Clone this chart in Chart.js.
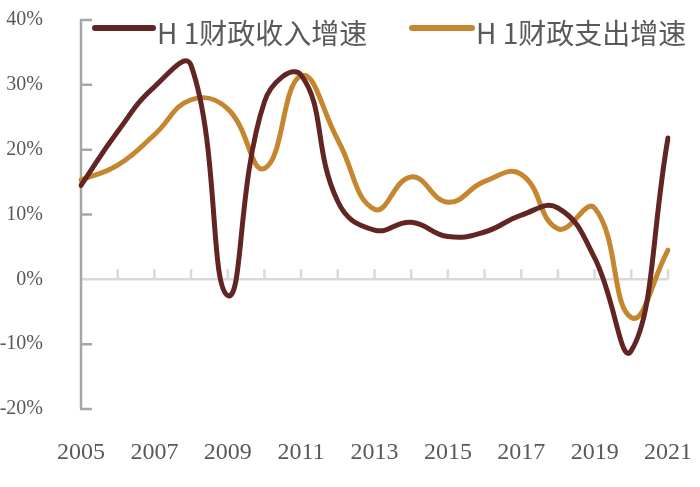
<!DOCTYPE html>
<html>
<head>
<meta charset="utf-8">
<script src="https://cdn.jsdelivr.net/npm/chart.js@4/dist/chart.umd.min.js"></script>
<style>
  html, body { margin: 0; padding: 0; background: #fff; }
  #wrap { width: 700px; height: 487px; }
</style>
</head>
<body>
<div id="wrap"><canvas id="myChart" width="700" height="487"></canvas></div>
<script>
const years = ["2005", "2006", "2007", "2008", "2009", "2010", "2011", "2012", "2013",
  "2014", "2015", "2016", "2017", "2018", "2019", "2020", "2021"];
const incomeGrowth = [14.5, 22.8, 29.7, 33.0, -2.5, 27.4, 31.5, 12.0, 7.6,
  8.8, 6.6, 7.3, 9.9, 11.0, 3.3, -11.0, 21.8];
const spendGrowth = [15.3, 17.6, 22.3, 27.7, 26.3, 17.1, 31.4, 21.5, 10.8,
  15.8, 11.9, 15.1, 16.2, 7.8, 11.0, -5.9, 4.5];
const seriesNames = ["H 1财政收入增速", "H 1财政支出增速"];
const colors = ["#632523", "#C4862E"];

const textColor = "#595959";
const serif = "'Liberation Serif', 'Times New Roman', serif";

// axis lines, inward ticks, and the legend drawn on top of the plot
const axisPlugin = {
  id: "axisPlugin",
  beforeDatasetsDraw(chart) {
    const ctx = chart.ctx;
    const x = chart.scales.x;
    const y = chart.scales.y;
    const zeroY = y.getPixelForValue(0);
    ctx.save();
    ctx.lineCap = "butt";

    // zero line with little upward ticks at each year
    ctx.strokeStyle = "#D9D9D9";
    ctx.lineWidth = 2.5;
    ctx.beginPath();
    ctx.moveTo(x.getPixelForValue(0), zeroY);
    ctx.lineTo(x.getPixelForValue(years.length - 1), zeroY);
    for (let i = 1; i < years.length; i++) {
      const px = x.getPixelForValue(i);
      ctx.moveTo(px, zeroY);
      ctx.lineTo(px, zeroY - 10);
    }
    ctx.stroke();

    // y axis with ticks pointing into the plot
    ctx.strokeStyle = "#A6A6A6";
    ctx.beginPath();
    const left = x.getPixelForValue(0);
    ctx.moveTo(left, y.getPixelForValue(y.max));
    ctx.lineTo(left, y.getPixelForValue(y.min));
    y.ticks.forEach(function (t) {
      if (t.value === 0) return;
      const py = y.getPixelForValue(t.value);
      ctx.moveTo(left - 1, py);
      ctx.lineTo(left + 11, py);
    });
    ctx.stroke();
    ctx.restore();
  },
  afterDraw(chart) {
    const ctx = chart.ctx;
    const spots = [[95, 153, 157], [412, 472, 476]];
    ctx.save();
    chart.data.datasets.forEach(function (ds, i) {
      const s = spots[i];
      ctx.strokeStyle = ds.borderColor;
      ctx.lineWidth = 6;
      ctx.lineCap = "round";
      ctx.beginPath();
      ctx.moveTo(s[0], 28);
      ctx.lineTo(s[1], 28);
      ctx.stroke();
      ctx.fillStyle = textColor;
      ctx.font = "28px 'Noto Sans CJK SC'";
      ctx.textBaseline = "middle";
      ctx.textAlign = "left";
      ctx.fillText(ds.label, s[2], 33);
    });
    ctx.restore();
  },
};

function lineSet(i, values) {
  return {
    label: seriesNames[i],
    data: values,
    borderColor: colors[i],
    backgroundColor: colors[i],
    borderWidth: 5,
    pointRadius: 0,
    tension: 0.45,
    borderCapStyle: "round",
    borderJoinStyle: "round",
    fill: false,
  };
}

const ctx = document.getElementById("myChart");
const chart = new Chart(ctx, {
  type: "line",
  data: {
    labels: years,
    datasets: [lineSet(0, incomeGrowth), lineSet(1, spendGrowth)],
  },
  options: {
    responsive: false,
    animation: false,
    devicePixelRatio: 1,
    layout: { padding: { top: 20, right: 32, bottom: 0, left: 0 } },
    plugins: {
      legend: { display: false },
      tooltip: { enabled: false },
    },
    scales: {
      x: {
        grid: { display: false, drawTicks: false },
        border: { display: false },
        ticks: {
          autoSkip: false,
          maxRotation: 0,
          padding: 29,
          color: textColor,
          font: { family: serif, size: 24 },
          callback: function (val, index) {
            return index % 2 === 0 ? years[index] : "";
          },
        },
        // tick padding would otherwise widen the side margins
        afterFit: function (scale) {
          scale.height = 78;
          scale.paddingLeft = 0;
          scale.paddingRight = 0;
        },
      },
      y: {
        min: -20,
        max: 40,
        grid: { display: false, drawTicks: false },
        border: { display: false },
        ticks: {
          stepSize: 10,
          padding: 38,
          color: textColor,
          font: { family: serif, size: 20 },
          callback: function (v) { return v + "%"; },
        },
        afterFit: function (scale) {
          scale.width = 81;
          scale.paddingTop = 12;
          scale.paddingBottom = 12;
        },
      },
    },
  },
  plugins: [axisPlugin],
});
</script>
</body>
</html>
